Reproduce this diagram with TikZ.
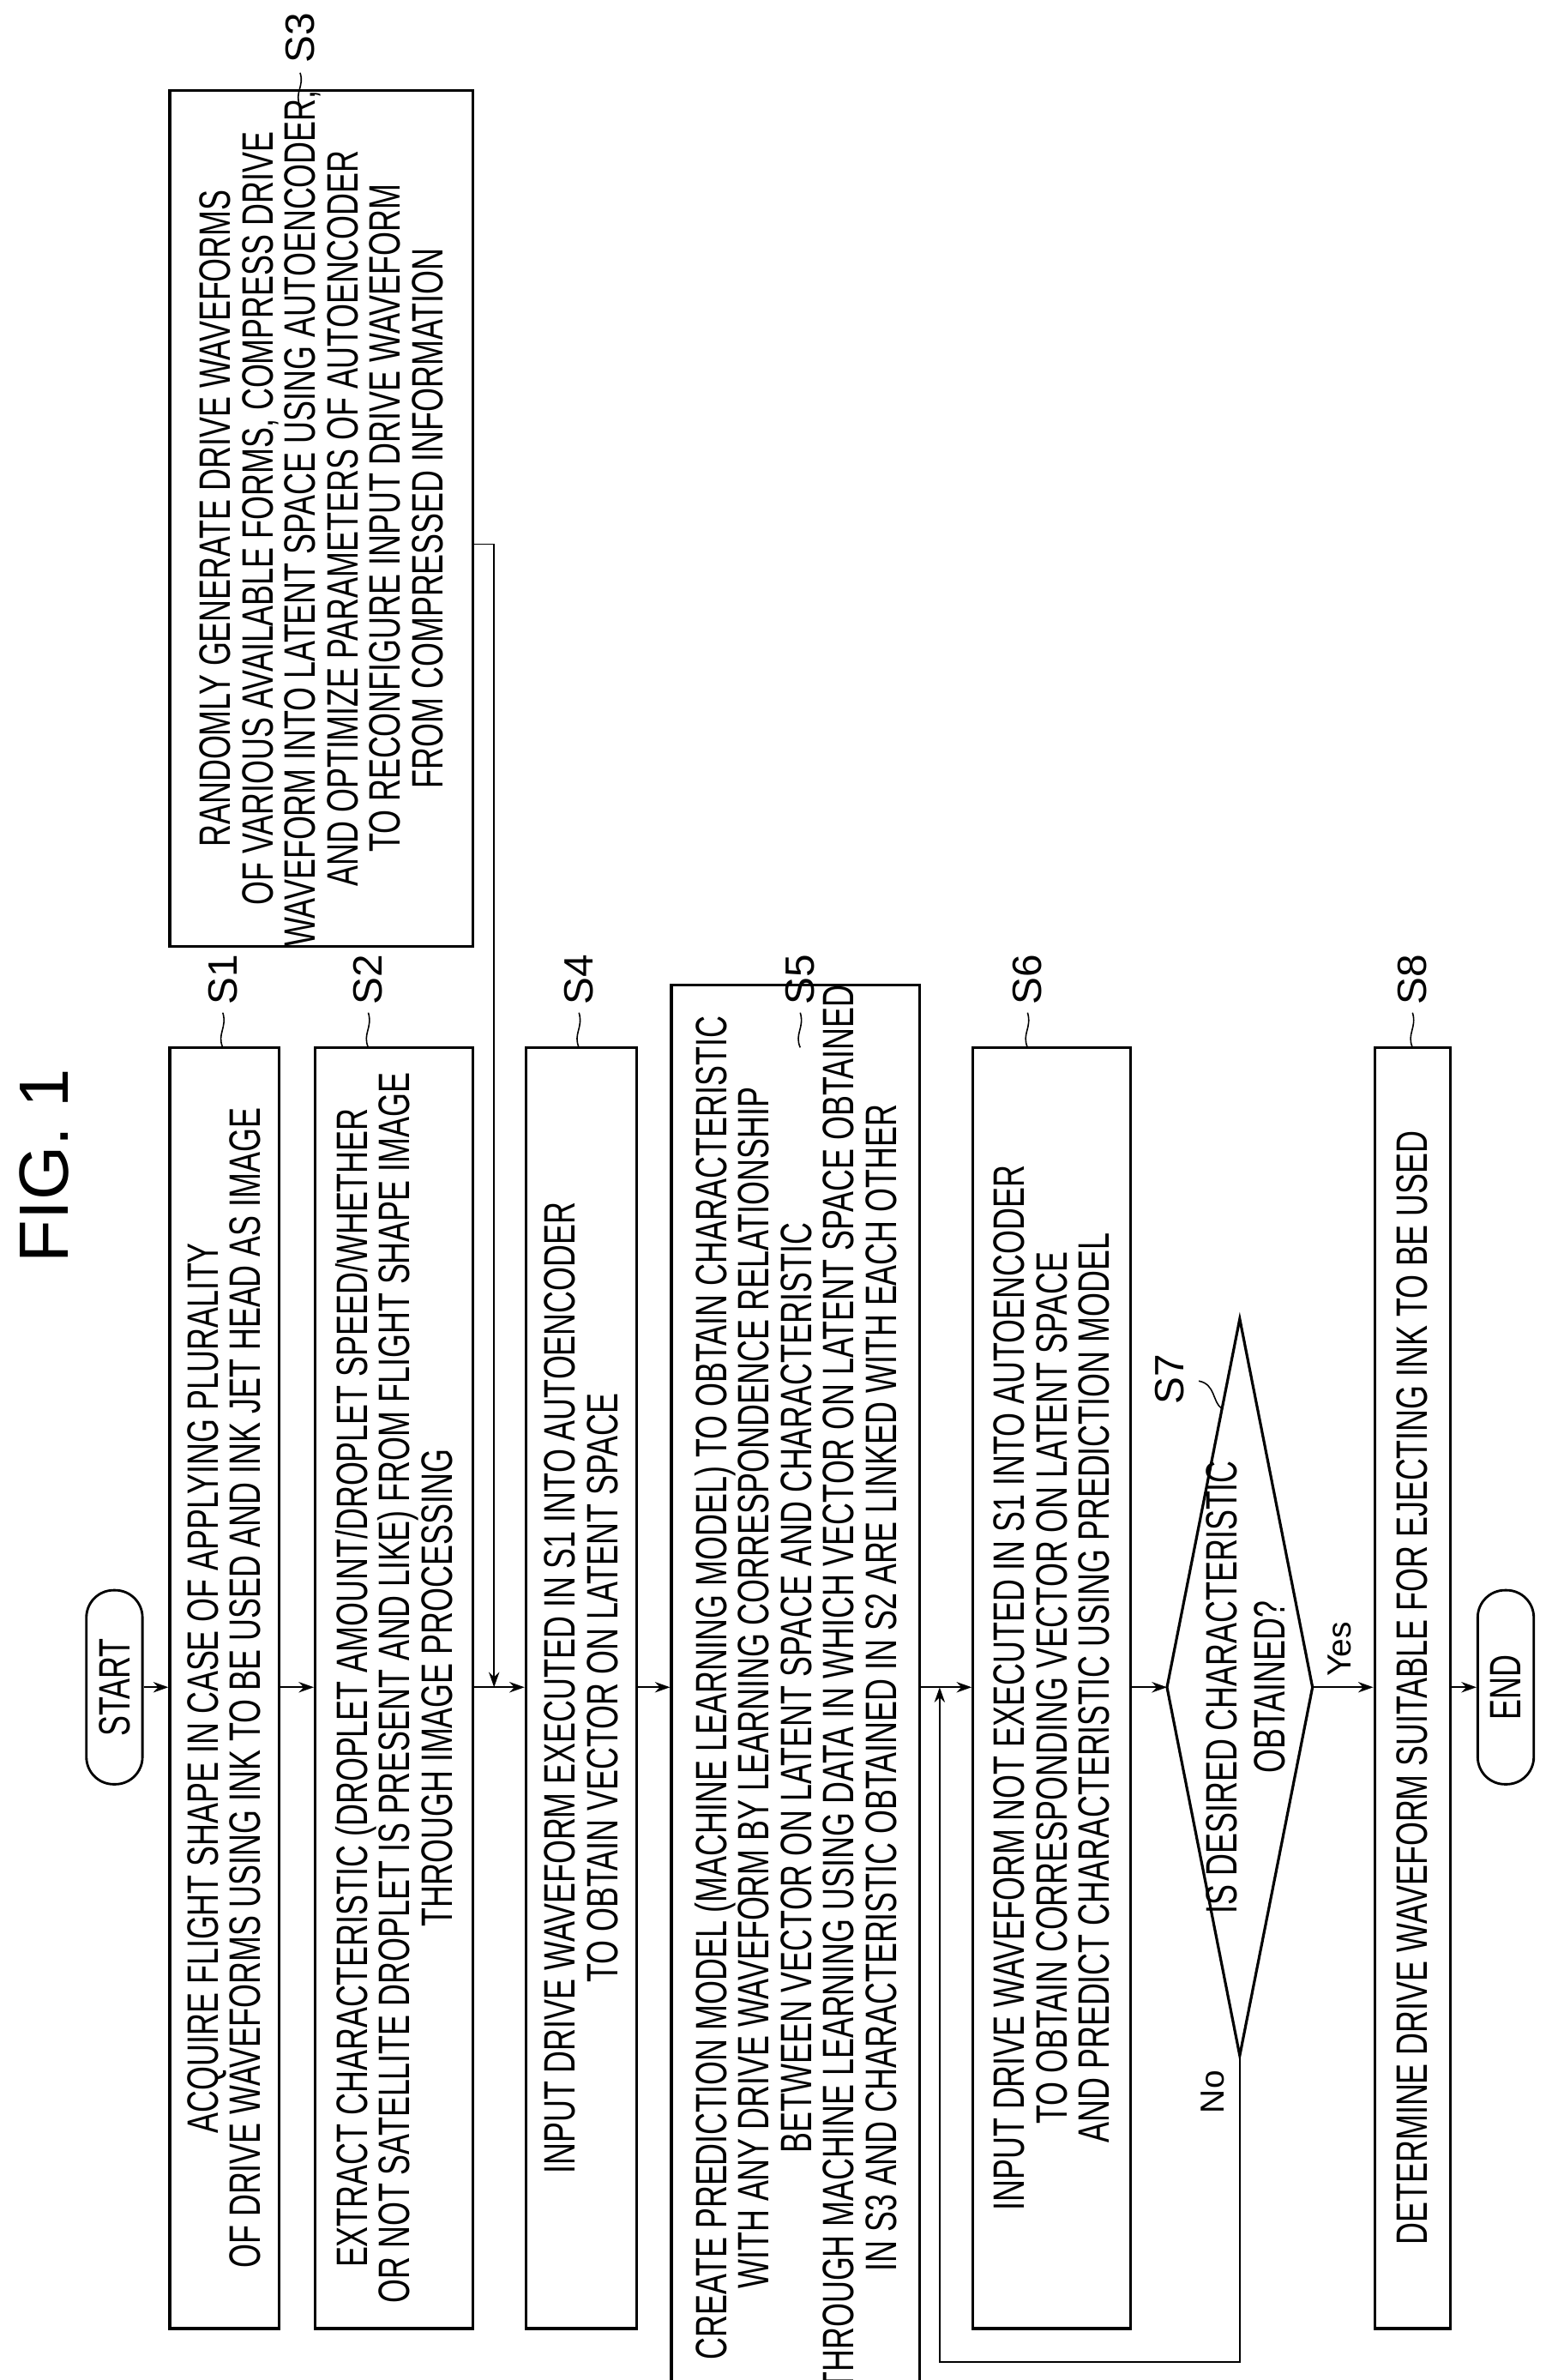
\documentclass[tikz,border=0pt]{standalone}
\usepackage{fontspec}
\setmainfont{Liberation Sans}
\newfontfamily\narrowf[FakeStretch=0.7]{Liberation Sans}
\usetikzlibrary{arrows.meta}
\begin{document}
\begin{tikzpicture}[x=1pt,y=-1pt,
  box/.style={draw,line width=1.8pt,rotate=90,align=center,inner sep=0pt,
    font=\narrowf\fontsize{29pt}{28pt}\selectfont},
  term/.style={draw,line width=1.6pt,rotate=90,rounded corners=18pt,inner sep=0pt,
    font=\narrowf\fontsize{29pt}{28pt}\selectfont},
  lab/.style={rotate=90,font=\fontsize{27pt}{27pt}\selectfont,inner sep=0pt},
  yn/.style={rotate=90,font=\fontsize{22pt}{22pt}\selectfont,inner sep=0pt},
  arr/.style={line width=1pt,-{Stealth[length=10pt,width=7pt]}},
  ln/.style={line width=1pt},
  lead/.style={line width=0.9pt}]
\useasboundingbox (0,0) rectangle (1024,1570);

\node[rotate=90,font=\fontsize{46pt}{46pt}\selectfont] (fig) at (29,769) {FIG. 1};

\node[term,minimum width=128pt,minimum height=37pt] (start) at (75.5,1113) {START};
\node[box,minimum width=845pt,minimum height=72pt] (s1) at (148,1113.5)
 {ACQUIRE FLIGHT SHAPE IN CASE OF APPLYING PLURALITY\\OF DRIVE WAVEFORMS USING INK TO BE USED AND INK JET HEAD AS IMAGE};
\node[box,minimum width=845pt,minimum height=104pt] (s2) at (260,1113.5)
 {EXTRACT CHARACTERISTIC (DROPLET AMOUNT/DROPLET SPEED/WHETHER\\OR NOT SATELLITE DROPLET IS PRESENT AND LIKE) FROM FLIGHT SHAPE IMAGE\\THROUGH IMAGE PROCESSING};
\node[box,minimum width=544pt,minimum height=200pt] (s3) at (212,342)
 {RANDOMLY GENERATE DRIVE WAVEFORMS\\OF VARIOUS AVAILABLE FORMS, COMPRESS DRIVE\\WAVEFORM INTO LATENT SPACE USING AUTOENCODER,\\AND OPTIMIZE PARAMETERS OF AUTOENCODER\\TO RECONFIGURE INPUT DRIVE WAVEFORM\\FROM COMPRESSED INFORMATION};
\node[box,minimum width=845pt,minimum height=73pt] (s4) at (383.5,1113.5)
 {INPUT DRIVE WAVEFORM EXECUTED IN S1 INTO AUTOENCODER\\TO OBTAIN VECTOR ON LATENT SPACE};
\node[box,minimum width=845pt,minimum height=164pt] (s5) at (525,1113.5)
 {CREATE PREDICTION MODEL (MACHINE LEARNING MODEL) TO OBTAIN CHARACTERISTIC\\WITH ANY DRIVE WAVEFORM BY LEARNING CORRESPONDENCE RELATIONSHIP\\BETWEEN VECTOR ON LATENT SPACE AND CHARACTERISTIC\\THROUGH MACHINE LEARNING USING DATA IN WHICH VECTOR ON LATENT SPACE OBTAINED\\IN S3 AND CHARACTERISTIC OBTAINED IN S2 ARE LINKED WITH EACH OTHER};
\node[box,minimum width=845pt,minimum height=104pt] (s6) at (694,1113.5)
 {INPUT DRIVE WAVEFORM NOT EXECUTED IN S1 INTO AUTOENCODER\\TO OBTAIN CORRESPONDING VECTOR ON LATENT SPACE\\AND PREDICT CHARACTERISTIC USING PREDICTION MODEL};
\node[box,minimum width=845pt,minimum height=50pt] (s8) at (932,1113.5)
 {DETERMINE DRIVE WAVEFORM SUITABLE FOR EJECTING INK TO BE USED};
\node[term,minimum width=128pt,minimum height=37pt] (end) at (993.5,1113) {END};

% decision S7
\coordinate (d7t) at (818,870);
\coordinate (d7r) at (866,1113);
\coordinate (d7b) at (818,1356);
\coordinate (d7l) at (770,1113);
\draw[line width=1.8pt,line join=miter] (d7t) -- (d7r) -- (d7b) -- (d7l) -- cycle;
\node[rotate=90,align=center,inner sep=0pt,font=\narrowf\fontsize{29pt}{32pt}\selectfont] (s7) at (822,1113)
 {IS DESIRED CHARACTERISTIC\\OBTAINED?};

% step labels with leaders
\node[lab] (l1) at (147,646) {S1};
\node[lab] (l2) at (243,646) {S2};
\node[lab] (l3) at (198,25) {S3};
\node[lab] (l4) at (382,646) {S4};
\node[lab] (l5) at (528,646) {S5};
\node[lab] (l6) at (678,646) {S6};
\node[lab] (l8) at (932,646) {S8};
\node[lab] (l7) at (772,910) {S7};
\foreach \n/\xx in {1/147,2/243,4/382,5/528,6/678,8/932}{
  \draw[lead] (\xx,691) .. controls (\xx-4,682) and (\xx+3,678) .. (\xx,668);
}
\draw[lead] (198,70) .. controls (194,61) and (201,57) .. (198,48);
\draw[lead] (806,929) .. controls (800,925) and (802,913) .. (791,911);

% connectors
\coordinate (ay) at (0,1113);
\draw[arr] (start.south |- ay) -- (s1.north |- ay);
\draw[arr] (s1.south |- ay) -- (s2.north |- ay);
\draw[arr] (s2.south |- ay) -- (s4.north |- ay);
\draw[arr] (s4.south |- ay) -- (s5.north |- ay);
\draw[arr] (s5.south |- ay) -- (s6.north |- ay);
\draw[arr] (s6.south |- ay) -- (d7l);
\draw[arr] (d7r) -- (s8.north |- ay);
\draw[arr] (s8.south |- ay) -- (end.north |- ay);

\coordinate (j3) at (326,359);
\coordinate (j3b) at (326,1113);
\draw[arr] (s3.south |- j3) -- (j3) -- (j3b);

\coordinate (lp1) at (818,1558);
\coordinate (lp2) at (620,1558);
\coordinate (lp3) at (620,1113);
\draw[arr] (d7b) -- (lp1) -- (lp2) -- (lp3);

\node[yn] (no) at (800,1380) {No};
\node[yn] (yes) at (884,1088) {Yes};
\end{tikzpicture}
\end{document}
